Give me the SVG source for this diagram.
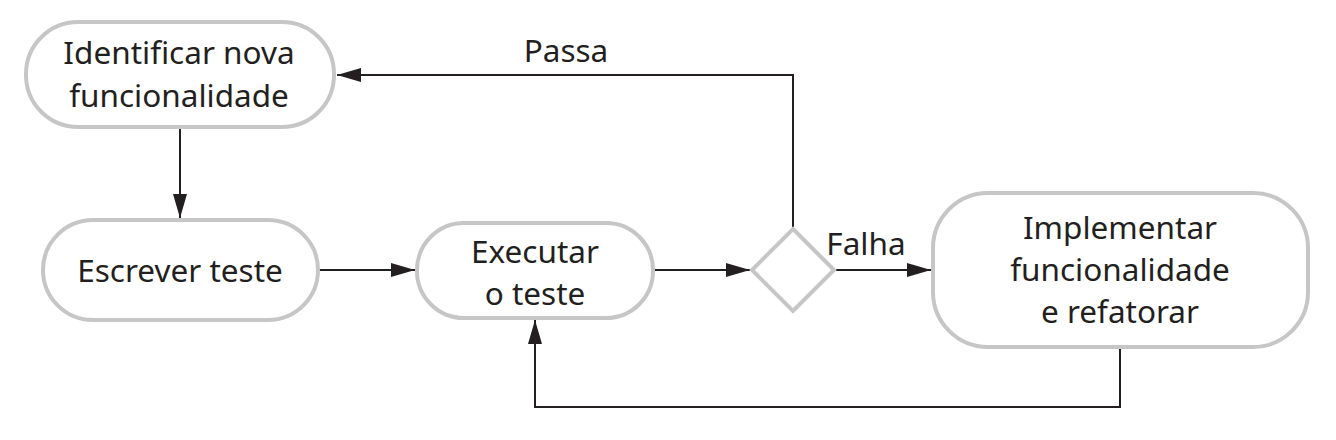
<svg xmlns="http://www.w3.org/2000/svg" width="1336" height="440" viewBox="0 0 1336 440">
<style>
.node{fill:#fff;stroke:#c6c6c6;stroke-width:4}
.lbl{font-family:"Noto Sans","Open Sans",sans-serif;font-size:31.5px;fill:#231f20;text-anchor:middle}
.edge{fill:none;stroke:#231f20;stroke-width:2}
</style>
<defs>
<marker id="ah" markerWidth="24" markerHeight="14" refX="24" refY="7" orient="auto" markerUnits="userSpaceOnUse">
<path d="M0,0 L24,7 L0,14 Z" fill="#231f20"/>
</marker>
</defs>
<rect width="1336" height="440" fill="#fff"/>
<g id="connectors">
<line class="edge" x1="180" y1="129" x2="180" y2="218" marker-end="url(#ah)"/>
<line class="edge" x1="319" y1="270" x2="415" y2="270" marker-end="url(#ah)"/>
<line class="edge" x1="654" y1="270" x2="750" y2="270" marker-end="url(#ah)"/>
<line class="edge" x1="836" y1="270" x2="931" y2="270" marker-end="url(#ah)"/>
<polyline class="edge" points="793,229 793,75 337,75" marker-end="url(#ah)"/>
<polyline class="edge" points="1120,348 1120,407 535,407 535,320" marker-end="url(#ah)"/>
<text class="lbl" x="566" y="62">Passa</text>
<text class="lbl" x="866" y="255">Falha</text>
</g>
<g id="identificar">
<rect class="node" x="26" y="22" width="308" height="105" rx="52"/>
<text class="lbl" x="179" y="64">Identificar nova</text>
<text class="lbl" x="179" y="107">funcionalidade</text>
</g>
<g id="escrever">
<rect class="node" x="43" y="220" width="275" height="100" rx="50"/>
<text class="lbl" x="180" y="282">Escrever teste</text>
</g>
<g id="executar">
<rect class="node" x="417" y="223" width="236" height="95" rx="47"/>
<text class="lbl" x="535" y="263">Executar</text>
<text class="lbl" x="535" y="305">o teste</text>
</g>
<g id="decisao">
<polygon class="node" points="793,229 834,270 793,311 752,270"/>
</g>
<g id="implementar">
<rect class="node" x="933" y="193" width="375" height="154" rx="55"/>
<text class="lbl" x="1120" y="239">Implementar</text>
<text class="lbl" x="1120" y="281">funcionalidade</text>
<text class="lbl" x="1120" y="323">e refatorar</text>
</g>
</svg>
